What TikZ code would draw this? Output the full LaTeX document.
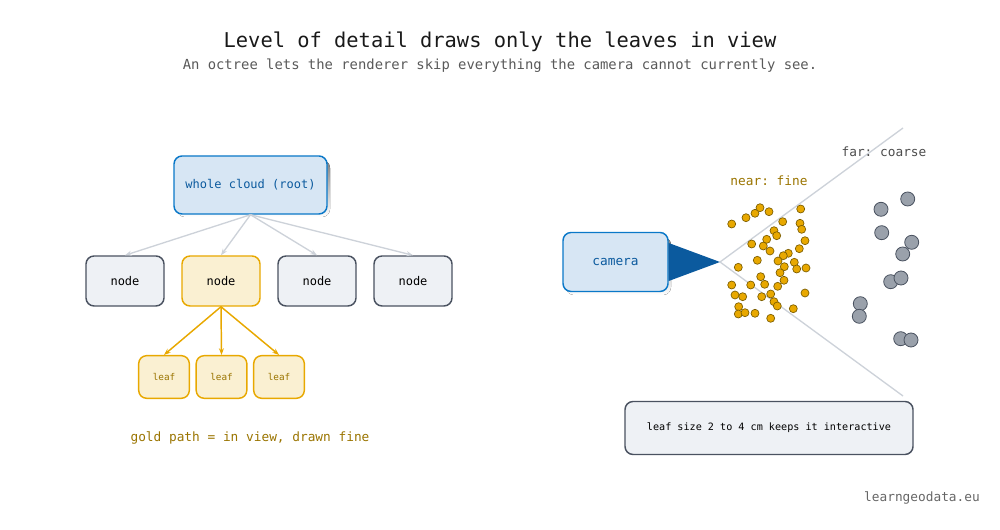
\documentclass[tikz,border=0pt]{standalone}
\usepackage{fontspec}
\setmonofont{DejaVu Sans Mono}
\usetikzlibrary{positioning, arrows.meta, calc}
\definecolor{rootline}{HTML}{0A78C8}
\definecolor{rootfill}{HTML}{D7E6F4}
\definecolor{roottext}{HTML}{0B5A9E}
\definecolor{goldline}{HTML}{E8A800}
\definecolor{goldfill}{HTML}{FAF0D2}
\definecolor{goldtext}{HTML}{9A7400}
\definecolor{greyline}{HTML}{4A5260}
\definecolor{greyfill}{HTML}{EEF1F5}
\definecolor{edgegrey}{HTML}{CDD2D9}
\definecolor{ptgrey}{HTML}{9AA1AB}
\definecolor{shade}{HTML}{E3E8EE}
\tikzset{
    box/.style={draw, rounded corners=6pt, line width=1.1pt, font=\ttfamily\small, align=center},
    plain/.style={box, draw=greyline, fill=greyfill, minimum width=58.5pt, minimum height=37.5pt},
    hot/.style={box, draw=goldline, fill=goldfill, minimum width=58.5pt, minimum height=37.5pt},
    leaf/.style={box, draw=goldline, fill=goldfill, text=goldtext, minimum width=38pt, minimum height=32pt, font=\ttfamily\scriptsize},
    fine/.style={circle, draw=goldtext!80!black, fill=goldline, line width=0.5pt, inner sep=0pt, minimum size=6pt},
    coarse/.style={circle, draw=greyline, fill=ptgrey, line width=0.6pt, inner sep=0pt, minimum size=10.5pt},
}
\begin{document}
\begin{tikzpicture}[x=0.75pt, y=-0.75pt]
    \useasboundingbox (0,0) rectangle (1000,530);

    \node[font=\ttfamily\fontsize{15.3}{18}\selectfont, text=black!90] (title) at (500,42) {Level of detail draws only the leaves in view};
    \node[font=\ttfamily\fontsize{10.4}{12}\selectfont, text=black!65] (sub) at (500,66) {An octree lets the renderer skip everything the camera cannot currently see.};

    % tree
    \fill[shade, rounded corners=6pt] (177,160) rectangle +(153,57);
    \node[box, draw=rootline, fill=rootfill, text=roottext, minimum width=114.75pt, minimum height=43.5pt, font=\ttfamily\fontsize{9}{11}\selectfont] (root) at (250.5,185) {whole cloud (root)};
    \node[plain] (n1) at (125,281) {node};
    \node[hot] (n2) at (221,281) {node};
    \node[plain] (n3) at (317,281) {node};
    \node[plain] (n4) at (413,281) {node};
    \foreach \n in {n1,n2,n3,n4}
      \draw[edgegrey, line width=1pt, -{Stealth[length=5pt]}] (root.south) -- (\n.north);

    \node[leaf] (l1) at (164,377) {leaf};
    \node[leaf] (l2) at (221.5,377) {leaf};
    \node[leaf] (l3) at (279,377) {leaf};
    \foreach \l in {l1,l2,l3}
      \draw[goldline, line width=1.1pt, -{Stealth[length=5pt]}] (n2.south) -- (\l.north);

    \node[font=\ttfamily\fontsize{9.6}{11}\selectfont, text=goldtext] (cap) at (250,438) {gold path = in view, drawn fine};

    % camera and frustum
    \fill[shade, rounded corners=6pt] (566,237) rectangle +(105,58);
    \node[box, draw=rootline, fill=rootfill, text=roottext, minimum width=78.75pt, minimum height=44.25pt, font=\ttfamily\fontsize{9.6}{11}\selectfont] (cam) at (615.5,262) {camera};
    \coordinate (apex) at (720,262);
    \coordinate (farup) at (903,128);
    \coordinate (fardn) at (903,396);
    \draw[edgegrey, line width=1pt] (apex) -- (farup) (apex) -- (fardn);
    \fill[roottext] (cam.east |- 0,243) -- (apex) -- (cam.east |- 0,281) -- cycle;

    \node[font=\ttfamily\fontsize{9.6}{11}\selectfont, text=goldtext] (near) at (769,181) {near: fine};
    \node[font=\ttfamily\fontsize{9.6}{11}\selectfont, text=black!70] (far) at (884,152) {far: coarse};

    \foreach \x/\y in {731.7/224,746/217.7,755/213.3,760/207.7,769/211.7,800.7/209,782.7/221.7,800/223.3,801.7/229.3,
      774/230.7,776.7/235.7,805/240.7,751.7/244,763.3/246,766.7/239.3,770/251,799.3/248.7,788.3/253.3,783.3/255.7,
      738.3/267.3,757.3/260.3,778/261,794.3/262.3,784.3/266.7,796.7/269,806/268,780/272.7,760.7/276.7,784/280.3,
      731.7/285,750.7/285,764.7/284.3,777.7/286.3,805/293,735/295,742.7/296.7,761.7/296.7,770.7/294,774/301.7,
      777.3/306,793.3/308.7,738.7/306.7,738.3/314,745/312.7,755/313.3,770.7/318.3}
      \node[fine] at (\x,\y) {};
    \foreach \x/\y in {881/209.3,907.7/199,881.7/232.7,911.7/242.3,902.7/254,890.7/281.7,901/278,
      860.3/303.7,859.3/316.3,900.7/338.7,911/340}
      \node[coarse] at (\x,\y) {};

    \node[plain, minimum width=216pt, minimum height=39.75pt, font=\ttfamily\fontsize{7.6}{9}\selectfont] (info) at (769,428) {leaf size 2 to 4 cm keeps it interactive};

    \node[font=\ttfamily\fontsize{9.6}{11}\selectfont, text=black!60] (foot) at (922,498) {learngeodata.eu};
\end{tikzpicture}
\end{document}
